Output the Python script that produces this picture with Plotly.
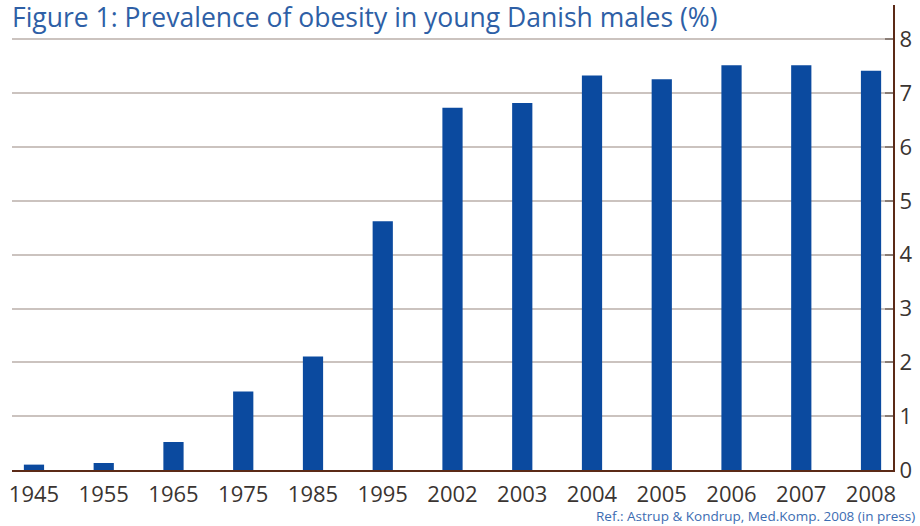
import plotly.graph_objects as go

years = ["1945", "1955", "1965", "1975", "1985", "1995", "2002", "2003", "2004", "2005", "2006", "2007", "2008"]
prevalence = [0.1, 0.13, 0.52, 1.46, 2.11, 4.62, 6.73, 6.82, 7.33, 7.26, 7.52, 7.52, 7.42]
y_ticks = [0, 1, 2, 3, 4, 5, 6, 7, 8]

title_text = "Figure 1: Prevalence of obesity in young Danish males (%)"
ref_text = "Ref.: Astrup &amp; Kondrup, Med.Komp. 2008 (in press)"

BROWN = "#5b2a17"
GRID = "#cbc3bf"
BAR = "#0b4a9f"
TXT = "#3a3431"

fig = go.Figure(go.Bar(
    x=years, y=prevalence, width=0.29,
    marker=dict(color=BAR, line=dict(width=0)),
))

fig.update_layout(
    width=920, height=526,
    margin=dict(l=12, r=27, t=5, b=56, autoexpand=False),
    paper_bgcolor="white", plot_bgcolor="white",
    showlegend=False,
    font=dict(family="Open Sans, sans-serif", color=TXT),
    xaxis=dict(
        type="category", range=[-0.315, 12.315],
        showline=True, linecolor=BROWN, linewidth=2,
        showgrid=False, ticks="outside", ticklen=4, tickcolor="rgba(0,0,0,0)",
        tickfont=dict(size=22, color=TXT),
    ),
    yaxis=dict(
        side="right", range=[0, 8.64],
        tickvals=y_ticks, ticktext=[str(v) for v in y_ticks],
        showgrid=True, gridcolor=GRID, gridwidth=1.5,
        zeroline=False,
        showline=True, linecolor=BROWN, linewidth=2,
        ticks="inside", ticklen=8, tickcolor="#8a7d76", tickwidth=1.5,
        tickfont=dict(size=22, color=TXT),
    ),
    annotations=[
        dict(text=title_text, xref="paper", yref="paper", x=0.0, y=1.0,
             xanchor="left", yanchor="top", yshift=8, xshift=-2, showarrow=False,
             font=dict(size=26.5, color="#2e5fa6", family="Open Sans, sans-serif")),
        dict(text=ref_text, xref="paper", yref="paper", x=1.0, y=0, xshift=24,
             yshift=-57, xanchor="right", yanchor="bottom", showarrow=False,
             font=dict(size=13.5, color="#3c6cb2", family="Open Sans, sans-serif")),
    ],
)

fig.write_html("out.html", config={"displayModeBar": False},
               post_script="document.body.style.margin='0px';document.body.style.padding='0px';")
